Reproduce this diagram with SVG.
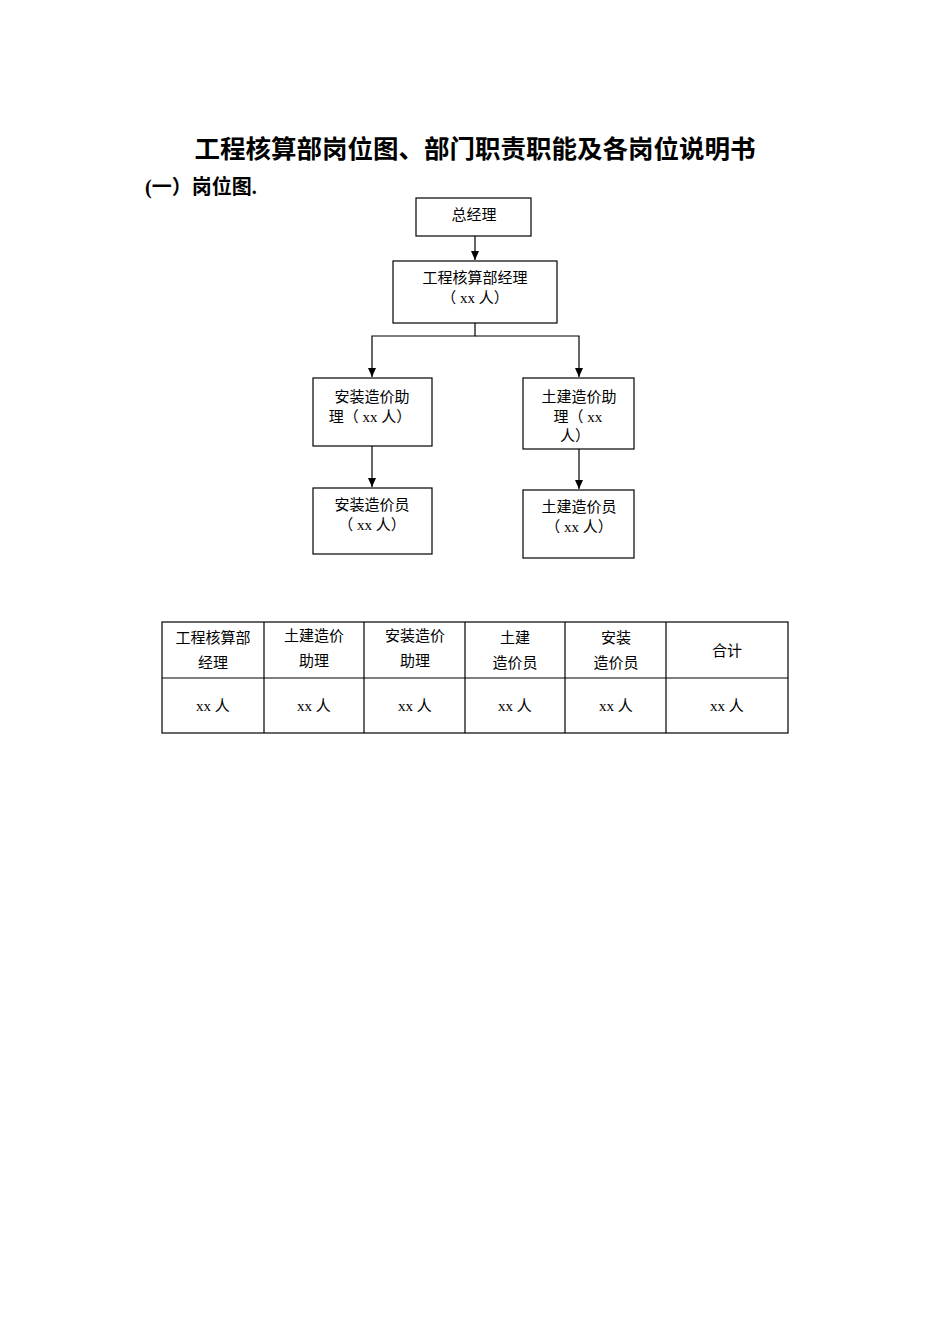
<svg xmlns="http://www.w3.org/2000/svg" width="950" height="1344" viewBox="0 0 950 1344">
<style>
text{font-family:"Liberation Serif","Noto Sans CJK SC",serif;fill:#000}
.n{font-size:15px;text-anchor:middle}
.b{fill:#fff;stroke:#000;stroke-width:1.2}
.l{stroke:#000;stroke-width:1.2;fill:none}
</style>
<defs><marker id="a" markerWidth="10" markerHeight="10" refX="9" refY="5" orient="auto" markerUnits="userSpaceOnUse"><path d="M0,1 L9,5 L0,9 Z" fill="#000"/></marker></defs>
<rect width="950" height="1344" fill="#fff"/>
<text x="475" y="158" font-size="25.5" font-weight="bold" text-anchor="middle">工程核算部岗位图、部门职责职能及各岗位说明书</text>
<text x="145" y="194" font-size="20" font-weight="bold">(一）岗位图.</text>
<g id="connectors">
<line class="l" x1="475" y1="236" x2="475" y2="260" marker-end="url(#a)"/>
<polyline class="l" points="475,323 475,336 372,336 372,377" marker-end="url(#a)"/>
<polyline class="l" points="475,336 579,336 579,377" marker-end="url(#a)"/>
<line class="l" x1="372" y1="446" x2="372" y2="487" marker-end="url(#a)"/>
<line class="l" x1="579" y1="449" x2="579" y2="489" marker-end="url(#a)"/>
</g>
<g id="n1"><rect class="b" x="416" y="198" width="115" height="38"/><text class="n" x="474" y="220">总经理</text></g>
<g id="n2"><rect class="b" x="393" y="261" width="164" height="62"/><text class="n" x="475" y="283">工程核算部经理</text><text class="n" x="475" y="303">（ xx 人）</text></g>
<g id="n3"><rect class="b" x="313" y="378" width="119" height="68"/><text class="n" x="372" y="402">安装造价助</text><text class="n" x="370" y="422">理（ xx 人）</text></g>
<g id="n4"><rect class="b" x="523" y="378" width="111" height="71"/><text class="n" x="579" y="402">土建造价助</text><text class="n" x="578" y="422">理（ xx</text><text class="n" x="575" y="441">人）</text></g>
<g id="n5"><rect class="b" x="313" y="488" width="119" height="66"/><text class="n" x="372" y="510">安装造价员</text><text class="n" x="372" y="530">（ xx 人）</text></g>
<g id="n6"><rect class="b" x="523" y="490" width="111" height="68"/><text class="n" x="579" y="512">土建造价员</text><text class="n" x="579" y="532">（ xx 人）</text></g>
<g id="table" font-size="15">
<rect class="b" x="162" y="622" width="626" height="111"/>
<line class="l" x1="162" y1="678" x2="788" y2="678"/>
<line class="l" x1="264" y1="622" x2="264" y2="733"/>
<line class="l" x1="364" y1="622" x2="364" y2="733"/>
<line class="l" x1="465" y1="622" x2="465" y2="733"/>
<line class="l" x1="565" y1="622" x2="565" y2="733"/>
<line class="l" x1="666" y1="622" x2="666" y2="733"/>
<text class="n" x="213" y="643">工程核算部</text><text class="n" x="213" y="668">经理</text>
<text class="n" x="314" y="641">土建造价</text><text class="n" x="314" y="666">助理</text>
<text class="n" x="415" y="641">安装造价</text><text class="n" x="415" y="666">助理</text>
<text class="n" x="515" y="643">土建</text><text class="n" x="515" y="668">造价员</text>
<text class="n" x="616" y="643">安装</text><text class="n" x="616" y="668">造价员</text>
<text class="n" x="727" y="656">合计</text>
<text class="n" x="213" y="711">xx 人</text><text class="n" x="314" y="711">xx 人</text><text class="n" x="415" y="711">xx 人</text><text class="n" x="515" y="711">xx 人</text><text class="n" x="616" y="711">xx 人</text><text class="n" x="727" y="711">xx 人</text>
</g>
</svg>
